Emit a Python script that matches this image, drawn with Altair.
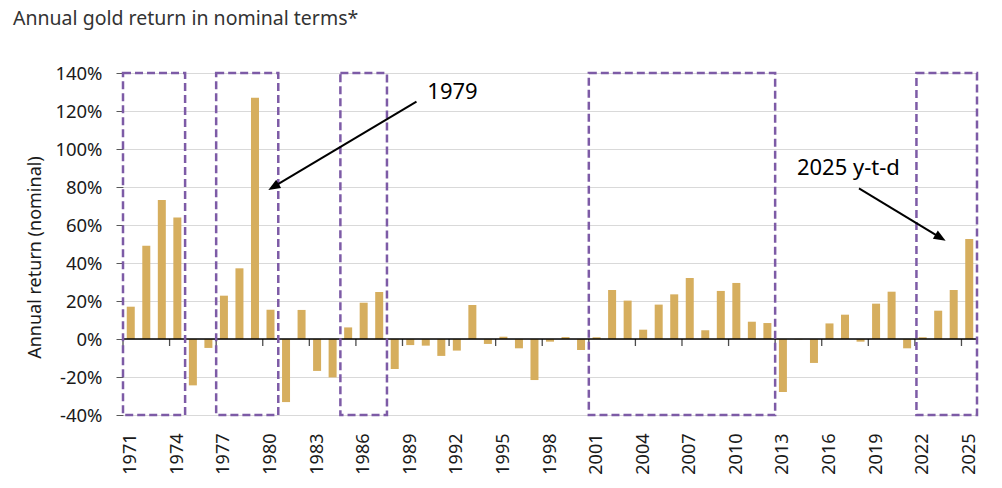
import altair as alt
import pandas as pd

years = list(range(1971, 2026))
returns = [
    17.0, 49.1, 73.2, 64.0, -24.4, -4.7, 22.8, 37.2, 127.0, 15.4,
    -33.2, 15.3, -16.8, -20.2, 6.1, 19.1, 24.7, -15.8, -3.2, -3.5,
    -8.9, -6.1, 17.9, -2.6, 1.2, -4.9, -21.6, -1.4, 1.0, -5.8,
    0.9, 25.8, 20.2, 4.9, 18.1, 23.5, 32.1, 4.6, 25.3, 29.5,
    9.1, 8.4, -27.9, -0.3, -12.6, 8.2, 12.8, -1.4, 18.6, 24.9,
    -4.9, 0.9, 14.9, 25.8, 52.6,
]
label_years = list(range(1971, 2026, 3))
tick_positions = [y - 0.5 for y in label_years]
y_ticks = list(range(-40, 141, 20))

box_start = [1970.5, 1976.5, 1984.5, 2000.5, 2021.6]
box_end = [1974.5, 1980.5, 1987.5, 2012.5, 2025.5]

ann_text = ["1979", "2025 y-t-d"]
ann_x = [1990.1, 2013.9]
ann_y = [130, 90]
arrow_x0 = [1989.4, 2017.9]
arrow_y0 = [124.9, 79.3]
arrow_x1 = [1980.4, 2022.9]
arrow_y1 = [81.1, 54.5]
tip_x = [1979.86, 2023.48]
tip_y = [78.4, 51.7]
tip_angle = [239.25, 120.95]

FONT = "Noto Sans"
W, H = 854, 342
XD = [1970.5, 2025.5]
YD = [-40, 140]

bars_df = pd.DataFrame({"year": years, "ret": returns})
boxes_df = pd.DataFrame({"x0": box_start, "x1": box_end, "y0": [-40] * 5, "y1": [140] * 5})
ticks_df = pd.DataFrame({"x": tick_positions, "y": [0] * len(tick_positions)})
ann_df = pd.DataFrame({"t": ann_text, "x": ann_x, "y": ann_y})
arrow_df = pd.DataFrame({"x0": arrow_x0, "y0": arrow_y0, "x1": arrow_x1, "y1": arrow_y1})
tip_df = pd.DataFrame({"x": tip_x, "y": tip_y, "a": tip_angle})

xs = alt.Scale(domain=XD, nice=False, zero=False, padding=0)
ys = alt.Scale(domain=YD, nice=False, padding=0)

xaxis = alt.Axis(
    values=label_years,
    labelAngle=-90,
    labelAlign="right",
    labelBaseline="middle",
    labelPadding=18,
    ticks=False,
    domain=False,
    grid=False,
    format="d",
    labelFont=FONT,
    labelFontSize=18,
    labelColor="#1a1a1a",
    labelOverlap=False,
    labelFlush=False,
    title=None,
)
yaxis = alt.Axis(
    values=y_ticks,
    labelExpr="datum.value + '%'",
    labelFont=FONT,
    labelFontSize=18.5,
    labelColor="#1a1a1a",
    labelPadding=14,
    labelOverlap=False,
    labelFlush=False,
    tickSize=7,
    tickColor="#595959",
    domain=False,
    gridColor="#d9d9d9",
    gridWidth=1,
    title="Annual return (nominal)",
    titleFont=FONT,
    titleFontSize=18,
    titleFontWeight="normal",
    titleColor="#1a1a1a",
    titlePadding=10,
    titleY=184,
)


def X(field):
    return alt.X(field, type="quantitative", scale=xs, axis=xaxis)


def Y(field):
    return alt.Y(field, type="quantitative", scale=ys, axis=yaxis)


bars = alt.Chart(bars_df).mark_bar(color="#d6ae5e", size=8).encode(
    x=X("year"),
    y=Y("ret"),
    y2=alt.datum(0),
)

zero_line = alt.Chart(pd.DataFrame({"y": [0]})).mark_rule(color="#000000", strokeWidth=1.5).encode(
    y=Y("y"),
    x=alt.value(0),
    x2=alt.value(W),
)

ticks = alt.Chart(ticks_df).mark_tick(
    orient="vertical", color="#000000", size=7, thickness=1.3, yOffset=3.5
).encode(
    x=X("x"),
    y=Y("y"),
)

boxes = alt.Chart(boxes_df).mark_rect(
    fill=None, stroke="#7d5ba6", strokeWidth=2.5, strokeDash=[8, 4]
).encode(
    x=X("x0"),
    x2="x1:Q",
    y=Y("y0"),
    y2="y1:Q",
)

arrows = alt.Chart(arrow_df).mark_rule(color="#000000", strokeWidth=2).encode(
    x=X("x0"),
    y=Y("y0"),
    x2="x1:Q",
    y2="y1:Q",
)

tips = alt.Chart(tip_df).mark_point(
    shape="M0,0L0.8,2L-0.8,2Z", filled=True, color="#000000", size=144, opacity=1
).encode(
    x=X("x"),
    y=Y("y"),
    angle=alt.Angle("a:Q", scale=None),
)

texts = alt.Chart(ann_df).mark_text(
    align="left", baseline="middle", font=FONT, fontSize=22, color="#000000"
).encode(
    x=X("x"),
    y=Y("y"),
    text="t:N",
)

chart = (
    alt.layer(bars, zero_line, ticks, boxes, arrows, tips, texts)
    .properties(
        width=W,
        height=H,
        autosize=alt.AutoSizeParams(type="none"),
        padding={"left": 115, "top": 65, "right": 10, "bottom": 64},
        title=alt.TitleParams(
            "Annual gold return in nominal terms*",
            anchor="start",
            frame="group",
            dx=-110,
            offset=35,
            font=FONT,
            fontSize=19.5,
            fontWeight="normal",
            color="#333333",
        ),
    )
    .configure_view(stroke=None)
)

chart.save("out.html", embed_options={"renderer": "svg", "actions": False})
